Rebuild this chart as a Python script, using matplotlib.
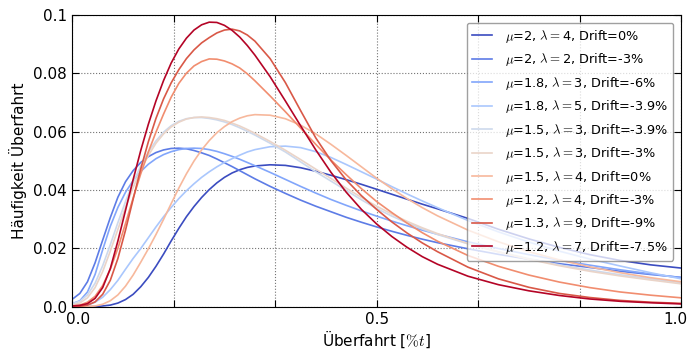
import numpy as np
import matplotlib
matplotlib.use("Agg")
import matplotlib.pyplot as plt
import matplotlib.transforms as mtrans

plt.rcParams['mathtext.fontset'] = 'cm'
plt.rcParams['font.family'] = 'DejaVu Sans'

x = [0, 0.0125, 0.025, 0.0375, 0.05, 0.0625, 0.075, 0.0875, 0.1, 0.1125, 0.125, 0.1375,
     0.15, 0.1625, 0.175, 0.1875, 0.2, 0.2125, 0.225, 0.2375, 0.25, 0.2625, 0.275, 0.2875,
     0.3, 0.325, 0.35, 0.375, 0.4, 0.425, 0.45, 0.475, 0.5, 0.525, 0.55, 0.575,
     0.6, 0.65, 0.7, 0.75, 0.8, 0.85, 0.9, 0.95, 1.0]

labels = [r"$\mu$=2, $\lambda=$4, Drift=0%",
          r"$\mu$=2, $\lambda=$2, Drift=-3%",
          r"$\mu$=1.8, $\lambda=$3, Drift=-6%",
          r"$\mu$=1.8, $\lambda=$5, Drift=-3.9%",
          r"$\mu$=1.5, $\lambda=$3, Drift=-3.9%",
          r"$\mu$=1.5, $\lambda=$3, Drift=-3%",
          r"$\mu$=1.5, $\lambda=$4, Drift=0%",
          r"$\mu$=1.2, $\lambda=$4, Drift=-3%",
          r"$\mu$=1.3, $\lambda=$9, Drift=-9%",
          r"$\mu$=1.2, $\lambda=$7, Drift=-7.5%"]

y0 = [0, 0, 0, 0, 0.0002, 0.0005, 0.0012, 0.0024, 0.0042, 0.0068, 0.0100, 0.0138,
      0.0180, 0.0225, 0.0268, 0.0308, 0.0343, 0.0374, 0.0401, 0.0424, 0.0443, 0.0458, 0.0469, 0.0477,
      0.0482, 0.0486, 0.0484, 0.0476, 0.0464, 0.0450, 0.0435, 0.0419, 0.0402, 0.0385, 0.0368, 0.0351,
      0.0335, 0.0302, 0.0265, 0.0232, 0.0203, 0.0178, 0.0158, 0.0143, 0.0132]
y1 = [0.0025, 0.0045, 0.0085, 0.0150, 0.0228, 0.0305, 0.0375, 0.0428, 0.0466, 0.0494, 0.0514, 0.0528,
      0.0537, 0.0542, 0.0543, 0.0541, 0.0535, 0.0527, 0.0518, 0.0506, 0.0493, 0.0480, 0.0466, 0.0452,
      0.0438, 0.0412, 0.0388, 0.0365, 0.0344, 0.0325, 0.0306, 0.0289, 0.0273, 0.0258, 0.0244, 0.0231,
      0.0219, 0.0198, 0.0179, 0.0162, 0.0147, 0.0134, 0.0121, 0.0110, 0.0100]
y2 = [0.0010, 0.0020, 0.0050, 0.0110, 0.0195, 0.0275, 0.0340, 0.0392, 0.0432, 0.0463, 0.0488, 0.0507,
      0.0521, 0.0531, 0.0538, 0.0542, 0.0543, 0.0542, 0.0538, 0.0532, 0.0524, 0.0515, 0.0505, 0.0494,
      0.0483, 0.0460, 0.0436, 0.0412, 0.0389, 0.0367, 0.0347, 0.0328, 0.0310, 0.0293, 0.0277, 0.0262,
      0.0248, 0.0222, 0.0199, 0.0178, 0.0159, 0.0142, 0.0126, 0.0112, 0.0099]
y3 = [0, 0.0001, 0.0005, 0.0015, 0.0032, 0.0058, 0.0090, 0.0128, 0.0165, 0.0199, 0.0236, 0.0273,
      0.0308, 0.0340, 0.0370, 0.0397, 0.0421, 0.0443, 0.0462, 0.0479, 0.0494, 0.0507, 0.0519, 0.0530,
      0.0538, 0.0548, 0.0550, 0.0545, 0.0531, 0.0511, 0.0487, 0.0462, 0.0437, 0.0411, 0.0386, 0.0362,
      0.0339, 0.0295, 0.0256, 0.0221, 0.0190, 0.0163, 0.0139, 0.0116, 0.0095]
y4 = [0.0010, 0.0018, 0.0040, 0.0080, 0.0140, 0.0212, 0.0288, 0.0360, 0.0425, 0.0482, 0.0530, 0.0568,
      0.0598, 0.0620, 0.0635, 0.0644, 0.0648, 0.0648, 0.0645, 0.0640, 0.0633, 0.0624, 0.0613, 0.0601,
      0.0588, 0.0560, 0.0530, 0.0496, 0.0462, 0.0430, 0.0398, 0.0366, 0.0336, 0.0310, 0.0287, 0.0266,
      0.0247, 0.0215, 0.0188, 0.0164, 0.0143, 0.0125, 0.0109, 0.0095, 0.0082]
y5 = [0.0005, 0.0012, 0.0030, 0.0065, 0.0120, 0.0190, 0.0265, 0.0340, 0.0408, 0.0468, 0.0518, 0.0560,
      0.0592, 0.0616, 0.0632, 0.0643, 0.0648, 0.0650, 0.0648, 0.0644, 0.0638, 0.0629, 0.0619, 0.0607,
      0.0594, 0.0566, 0.0536, 0.0504, 0.0471, 0.0439, 0.0406, 0.0374, 0.0344, 0.0317, 0.0292, 0.0270,
      0.0250, 0.0216, 0.0187, 0.0162, 0.0140, 0.0121, 0.0105, 0.0091, 0.0078]
y6 = [0, 0, 0, 0.0002, 0.0008, 0.0020, 0.0040, 0.0070, 0.0108, 0.0152, 0.0198, 0.0247,
      0.0299, 0.0353, 0.0406, 0.0455, 0.0499, 0.0537, 0.0569, 0.0596, 0.0617, 0.0634, 0.0646, 0.0654,
      0.0658, 0.0656, 0.0644, 0.0622, 0.0592, 0.0556, 0.0518, 0.0479, 0.0440, 0.0404, 0.0370, 0.0339,
      0.0311, 0.0262, 0.0222, 0.0188, 0.0160, 0.0136, 0.0116, 0.0099, 0.0085]
y7 = [0.0002, 0.0005, 0.0015, 0.0035, 0.0072, 0.0128, 0.0200, 0.0285, 0.0372, 0.0455, 0.0530, 0.0598,
      0.0660, 0.0718, 0.0765, 0.0800, 0.0825, 0.0840, 0.0849, 0.0848, 0.0842, 0.0832, 0.0818, 0.0798,
      0.0774, 0.0722, 0.0668, 0.0612, 0.0556, 0.0502, 0.0452, 0.0404, 0.0360, 0.0322, 0.0286, 0.0253,
      0.0224, 0.0175, 0.0138, 0.0108, 0.0084, 0.0065, 0.0050, 0.0039, 0.0030]
y8 = [0, 0.0001, 0.0005, 0.0016, 0.0042, 0.0090, 0.0165, 0.0262, 0.0368, 0.0472, 0.0565, 0.0645,
      0.0712, 0.0767, 0.0812, 0.0850, 0.0880, 0.0904, 0.0922, 0.0938, 0.0948, 0.0951, 0.0945, 0.0931,
      0.0910, 0.0850, 0.0768, 0.0672, 0.0578, 0.0500, 0.0434, 0.0380, 0.0333, 0.0290, 0.0252, 0.0218,
      0.0188, 0.0135, 0.0095, 0.0066, 0.0045, 0.0031, 0.0021, 0.0015, 0.0011]
y9 = [0.0002, 0.0004, 0.0010, 0.0028, 0.0065, 0.0130, 0.0225, 0.0330, 0.0435, 0.0535, 0.0625, 0.0705,
      0.0775, 0.0835, 0.0883, 0.0920, 0.0948, 0.0966, 0.0975, 0.0974, 0.0964, 0.0947, 0.0924, 0.0895,
      0.0862, 0.0788, 0.0705, 0.0620, 0.0537, 0.0460, 0.0392, 0.0333, 0.0283, 0.0240, 0.0203, 0.0171,
      0.0145, 0.0104, 0.0075, 0.0054, 0.0038, 0.0026, 0.0018, 0.0013, 0.0009]

curves = [y0, y1, y2, y3, y4, y5, y6, y7, y8, y9]
colors = plt.cm.coolwarm(np.linspace(0, 1, len(curves)))

fig = plt.figure(figsize=(6.88, 3.54), dpi=100)
ax = fig.add_axes([0.105, 0.134, 0.885, 0.824])

for yy, c, lab in zip(curves, colors, labels):
    ax.plot(x, yy, color=c, lw=1.2, label=lab)

ax.set_xlim(0, 1)
ax.set_ylim(0, 0.1)
ax.set_xticks(np.linspace(0, 1, 7))
ax.set_xticklabels(['0.0', '', '', '0.5', '', '', '1.0'])
ax.set_yticks([0, 0.02, 0.04, 0.06, 0.08, 0.1])
ax.set_yticklabels(['0.0', '0.02', '0.04', '0.06', '0.08', '0.1'])
ax.tick_params(direction='in', top=True, right=True, length=5, labelsize=11, pad=4)
ax.grid(True, color='0.45', linestyle=':', linewidth=0.8)

# end labels sit slightly inward in the original
xl = ax.get_xticklabels()
xl[0].set_transform(xl[0].get_transform() + mtrans.ScaledTranslation(0.055, 0, fig.dpi_scale_trans))
xl[-1].set_transform(xl[-1].get_transform() + mtrans.ScaledTranslation(-0.055, 0, fig.dpi_scale_trans))

ax.set_xlabel(r"Überfahrt [$\%t$]", fontsize=11, labelpad=1)
ax.set_ylabel("Häufigkeit Überfahrt", fontsize=11)

leg = ax.legend(loc='upper right', fontsize=9.3, handlelength=1.55, handletextpad=1.0,
                labelspacing=0.5, fancybox=True, framealpha=0.75, borderaxespad=0.6)
leg.get_frame().set_edgecolor('0.5')

fig.savefig("out.png", dpi=100)
